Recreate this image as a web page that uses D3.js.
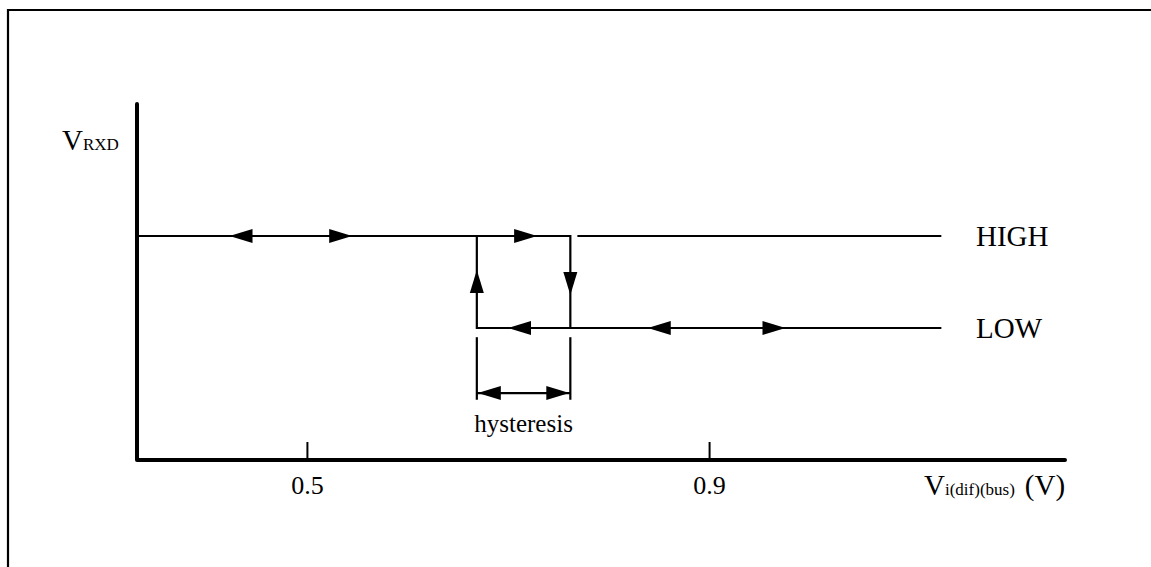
<!DOCTYPE html>
<html>
<head>
<meta charset="utf-8">
<script src="https://cdn.jsdelivr.net/npm/d3@7"></script>
<style>
  html, body { margin: 0; padding: 0; background: #fff; }
  svg { display: block; }
  svg text { font-family: "Liberation Serif", "Times New Roman", Times, serif !important; fill: #000; }
</style>
</head>
<body>
<svg id="chart" width="1151" height="567" font-family="Liberation Serif, serif"></svg>
<script>
// ---------- data ----------
const xTicks = [0.5, 0.9];                 // labelled bus voltages (V)
const xTickLabels = ["0.5", "0.9"];
const axisExtent = [0.331, 1.254];         // x-axis span (V)
const stateExtent = [-1.435, 2.435];       // y-axis span in state units (LOW=0, HIGH=1)
const states = ["LOW", "HIGH"];            // output states
const stateValues = [0, 1];
const thresholdRise = 0.669;               // LOW -> HIGH switching point (V)
const thresholdFall = 0.762;               // HIGH -> LOW switching point (V)
const lineStart = 0.331;
const lineEnd = 1.131;
const highGapEnd = 0.769;
// arrowheads on the horizontal lines: [state, tip position (V), direction]
const hArrows = [
  [1, 0.423, -1], [1, 0.545, 1], [1, 0.729, 1],
  [0, 0.700, -1], [0, 0.839, -1], [0, 0.976, 1]
];
// arrowheads on the vertical switching lines: [V, tip (state units), direction]
const vArrows = [
  [thresholdRise, 0.63, 1],
  [thresholdFall, 0.36, -1]
];
const hysteresisBracket = [-0.10, -0.78];  // bracket span (state units)
const hysteresisArrowY = -0.707;

// ---------- scales ----------
const svg = d3.select("#chart");
const x = d3.scaleLinear().domain(axisExtent).range([137, 1065]);
const y = d3.scaleLinear().domain([0, 1]).range([328, 236]);
const FONT = "'Liberation Serif', 'Times New Roman', serif";

// frame
svg.append("path").attr("d", "M8,567V10H1151")
  .attr("fill", "none").attr("stroke", "#000").attr("stroke-width", 2.2);

// axes
svg.append("path")
  .attr("d", d3.line()([[x(axisExtent[0]), y(stateExtent[1])], [x(axisExtent[0]), y(stateExtent[0])], [x(axisExtent[1]), y(stateExtent[0])]]))
  .attr("fill", "none").attr("stroke", "#000").attr("stroke-width", 4)
  .attr("stroke-linejoin", "round").attr("stroke-linecap", "round");

const xAxis = d3.axisBottom(x).tickValues(xTicks)
  .tickFormat((d, i) => xTickLabels[i]).tickSize(-18).tickSizeOuter(0);
const xg = svg.append("g").attr("transform", `translate(0,${y(stateExtent[0])})`).call(xAxis)
  .attr("font-family", FONT);
xg.select(".domain").remove();
xg.selectAll(".tick line").attr("stroke", "#000").attr("stroke-width", 2);
xg.selectAll(".tick text").attr("y", 34).attr("dy", 0)
  .attr("font-family", FONT).attr("font-size", 26).attr("fill", "#000");

// state lines
const lineG = svg.append("g").attr("stroke", "#000").attr("stroke-width", 2.2).attr("fill", "none");
const seg = (pts) => lineG.append("path").attr("d", d3.line()(pts));
seg([[x(lineStart), y(1)], [x(thresholdFall), y(1)], [x(thresholdFall), y(0)]]);
seg([[x(highGapEnd), y(1)], [x(lineEnd), y(1)]]);
seg([[x(thresholdRise), y(1)], [x(thresholdRise), y(0)], [x(lineEnd), y(0)]]);

// hysteresis bracket
seg([[x(thresholdRise), y(hysteresisBracket[0])], [x(thresholdRise), y(hysteresisBracket[1])]]);
seg([[x(thresholdFall), y(hysteresisBracket[0])], [x(thresholdFall), y(hysteresisBracket[1])]]);
seg([[x(thresholdRise), y(hysteresisArrowY)], [x(thresholdFall), y(hysteresisArrowY)]]);

// arrowheads
const L = 23, W = 7;
const arrowG = svg.append("g").attr("fill", "#000");
function hHead(tx, ty, dir) {
  arrowG.append("path").attr("d", d3.line()([[tx, ty], [tx - dir * L, ty - W], [tx - dir * L, ty + W]]) + "Z");
}
function vHead(tx, ty, dir) { // dir 1 = up
  arrowG.append("path").attr("d", d3.line()([[tx, ty], [tx - W, ty + dir * L], [tx + W, ty + dir * L]]) + "Z");
}
hArrows.forEach(([s, v, d]) => hHead(x(v), y(s), d));
vArrows.forEach(([v, s, d]) => vHead(x(v), y(s), d));
hHead(x(thresholdRise) + 1, y(hysteresisArrowY), -1);
hHead(x(thresholdFall) - 1, y(hysteresisArrowY), 1);

// labels
svg.append("text").attr("x", (x(thresholdRise) + x(thresholdFall)) / 2).attr("y", 432)
  .attr("text-anchor", "middle").attr("font-family", FONT).attr("font-size", 25).text("hysteresis");

states.forEach((s, i) => {
  svg.append("text").attr("x", 976).attr("y", y(stateValues[i]) + 10)
    .attr("font-family", FONT).attr("font-size", 29).text(s);
});

const yl = svg.append("text").attr("x", 62).attr("y", 150).attr("font-family", FONT);
yl.append("tspan").attr("font-size", 29).text("V");
yl.append("tspan").attr("font-size", 17).text("RXD");

const xl = svg.append("text").attr("x", 924).attr("y", 495).attr("font-family", FONT);
xl.append("tspan").attr("font-size", 29).text("V");
xl.append("tspan").attr("font-size", 17).text("i(dif)(bus)");
xl.append("tspan").attr("font-size", 29).attr("dx", 10).text("(V)");
</script>
</body>
</html>
